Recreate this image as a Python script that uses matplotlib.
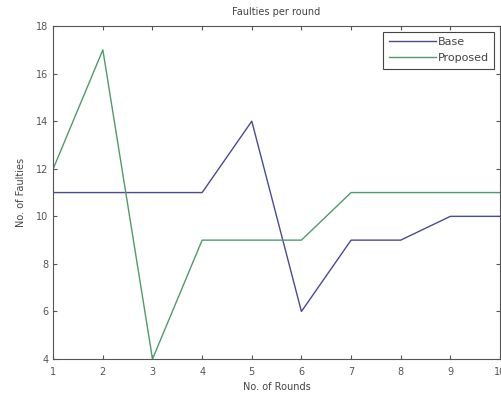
import numpy as np
from matplotlib import pyplot as plt

rounds = [1, 2, 3, 4, 5, 6, 7, 8, 9, 10]
base = [11, 11, 11, 11, 14, 6, 9, 9, 10, 10]
proposed = [12, 17, 4, 9, 9, 9, 11, 11, 11, 11]

fig = plt.figure(figsize=(5.02, 3.95), dpi=100)
ax = fig.add_axes([0.106, 0.091, 0.89, 0.843])

ax.plot(rounds, base, color='#4a4a96', lw=1.0, label='Base')
ax.plot(rounds, proposed, color='#4f9a6e', lw=1.0, label='Proposed')

ax.set_xlim(1, 10)
ax.set_ylim(4, 18)
ax.set_xticks(rounds)
ax.set_yticks(np.arange(4, 19, 2))
ax.tick_params(direction='in', labelsize=7, colors='#555555', length=3, top=True, right=True)
ax.tick_params(axis='x', pad=6)
for s in ax.spines.values():
    s.set_color('#555555')
    s.set_linewidth(0.8)

ax.set_title('Faulties per round', fontsize=7, color='#444444', pad=8)
ax.set_xlabel('No. of Rounds', fontsize=7, color='#444444', labelpad=3)
ax.set_ylabel('No. of Faulties', fontsize=7, color='#444444', labelpad=7)

leg = ax.legend(loc='upper right', fontsize=8, fancybox=False, framealpha=1,
                edgecolor='#444444', handlelength=4.2, borderaxespad=0.5,
                handletextpad=0.2, labelspacing=0.55, borderpad=0.5)
leg.get_frame().set_linewidth(0.8)
for t in leg.get_texts():
    t.set_color('#444444')

fig.savefig('out.png', dpi=100)
